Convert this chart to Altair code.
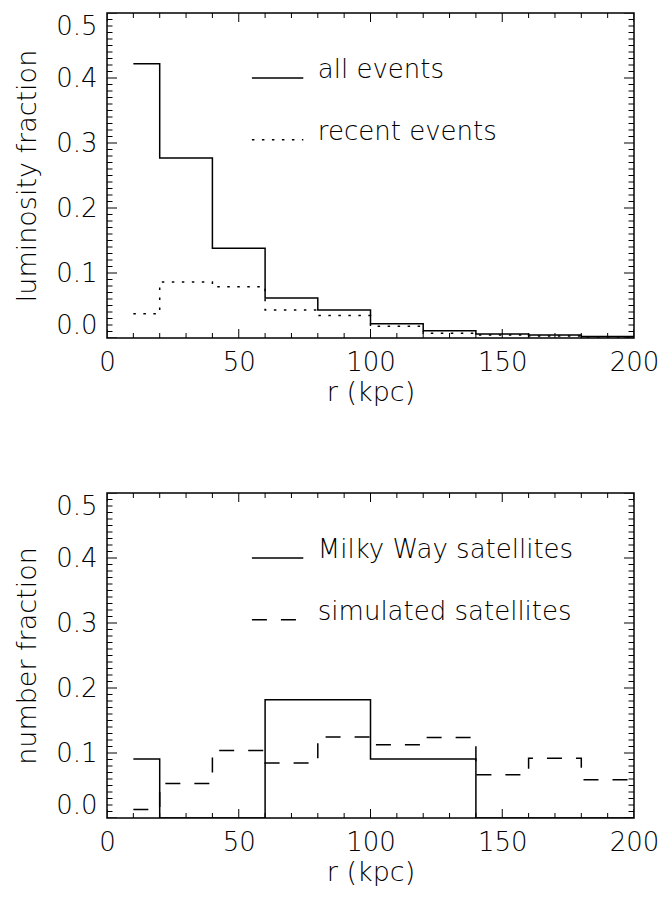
import altair as alt
import pandas as pd

# ---------------- data ----------------
r_edges = [10, 20, 40, 60, 80, 100, 120, 140, 160, 180, 200]

lum_all = [0.422, 0.277, 0.138, 0.0615, 0.043, 0.022, 0.011, 0.006, 0.0045, 0.0025]
lum_recent = [0.0375, 0.086, 0.079, 0.043, 0.0345, 0.018, 0.0075, 0.0045, 0.003, 0.0015]

num_mw = [0.0909, 0.0, 0.0, 0.1818, 0.1818, 0.0909, 0.0909, 0.0, 0.0, 0.0]
num_sim = [0.013, 0.053, 0.104, 0.0846, 0.1246, 0.1128, 0.124, 0.0667, 0.092, 0.059]

x_major = [0, 50, 100, 150, 200]
x_minor = [10, 20, 30, 40, 60, 70, 80, 90, 110, 120, 130, 140, 160, 170, 180, 190]
y_major = [0.0, 0.1, 0.2, 0.3, 0.4, 0.5]
y_minor = [round(i * 0.01, 2) for i in range(51) if i % 10 != 0]

top_legend_labels = ["all events", "recent events"]
bottom_legend_labels = ["Milky Way satellites", "simulated satellites"]
legend_y = [0.4, 0.305]
legend_x0 = 55
legend_x1 = 74.5
legend_tx = 80

FONT = "DejaVu Sans"
FW = 200
DOT = [2.5, 7.5]
DASH = [15, 14]

xs = alt.Scale(domain=[0, 200], nice=False, zero=False)
ys = alt.Scale(domain=[0, 0.5], nice=False, zero=False)


def make_axes(ytitle):
    xa = alt.Axis(values=x_major, format="d", title="r (kpc)", labelFlush=False,
                  labelOverlap=False, labelPadding=11, titlePadding=4)
    ya = alt.Axis(values=y_major, format=".1f", title=ytitle, labelFlush=True,
                  labelOverlap=False, labelPadding=10, titlePadding=14)
    return xa, ya


def step_df(vals):
    return pd.DataFrame({"r": r_edges, "f": vals + [vals[-1]]})


def panel(series, dashes, labels, ytitle):
    xa, ya = make_axes(ytitle)
    X = lambda f: alt.X(f, type="quantitative", scale=xs, axis=xa)
    Y = lambda f: alt.Y(f, type="quantitative", scale=ys, axis=ya)
    layers = []
    for vals, dash in zip(series, dashes):
        mk = dict(interpolate="step-after", color="black", strokeWidth=1.5, clip=True)
        if dash:
            mk["strokeDash"] = dash
        layers.append(alt.Chart(step_df(vals)).mark_line(**mk).encode(x=X("r"), y=Y("f")))
    # legend
    for lab, yy, dash in zip(labels, legend_y, dashes):
        ldf = pd.DataFrame({"x0": [legend_x0], "x1": [legend_x1], "y": [yy],
                            "tx": [legend_tx], "label": [lab]})
        mk = dict(color="black", strokeWidth=1.5)
        if dash:
            mk["strokeDash"] = dash
        layers.append(alt.Chart(ldf).mark_rule(**mk).encode(x=X("x0"), x2="x1", y=Y("y")))
        layers.append(alt.Chart(ldf).mark_text(align="left", baseline="alphabetic",
                                               font=FONT, fontSize=26, fontWeight=FW,
                                               color="black")
                      .encode(x=X("tx"), y=Y("y"), text="label:N"))
    # inward ticks on all four sides
    for vals, size in ((x_major, 18), (x_minor, 10)):
        tdf = pd.DataFrame({"x": vals * 2, "y": [0.0] * len(vals) + [0.5] * len(vals)})
        layers.append(alt.Chart(tdf).mark_tick(orient="vertical", size=size, thickness=1,
                                               color="black", clip=True, opacity=1)
                      .encode(x=X("x"), y=Y("y")))
    for vals, size in ((y_major, 20), (y_minor, 11)):
        tdf = pd.DataFrame({"y": vals * 2, "x": [0.0] * len(vals) + [200.0] * len(vals)})
        layers.append(alt.Chart(tdf).mark_tick(orient="horizontal", size=size, thickness=1,
                                               color="black", clip=True, opacity=1)
                      .encode(x=X("x"), y=Y("y")))
    return alt.layer(*layers).properties(width=527, height=325)


top = panel([lum_all, lum_recent], [None, DOT], top_legend_labels, "luminosity fraction")
bottom = panel([num_mw, num_sim], [None, DASH], bottom_legend_labels, "number fraction")

chart = (
    alt.vconcat(top, bottom, spacing=86)
    .properties(padding={"left": 12, "top": 12, "right": 0, "bottom": 0}, background="white")
    .configure_view(stroke="black", strokeWidth=1.5)
    .configure_axis(labelFont=FONT, titleFont=FONT, labelFontSize=26, titleFontSize=27,
                    labelFontWeight=FW, titleFontWeight=FW,
                    labelColor="black", titleColor="black",
                    ticks=False, domain=False, grid=False)
)

chart.save("out.html", embed_options={"renderer": "svg", "actions": False})
